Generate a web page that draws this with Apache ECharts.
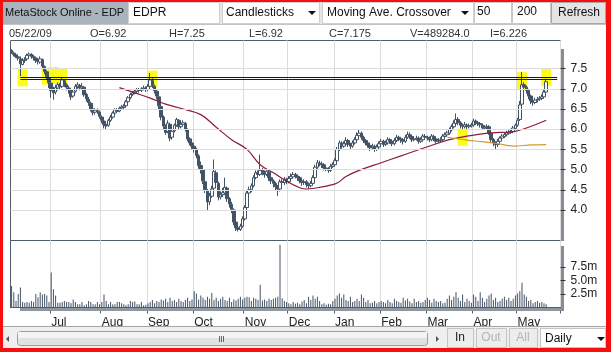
<!DOCTYPE html>
<html>
<head>
<meta charset="utf-8">
<title>MetaStock Online - EDP</title>
<script src="https://cdn.jsdelivr.net/npm/echarts@6/dist/echarts.min.js"></script>
<style>
  html, body { margin: 0; padding: 0; background: #fff; }
  #frame { position: absolute; left: 0; top: 0; width: 611px; height: 352px; box-sizing: border-box;
           border-style: solid; border-color: #f70f0f; border-width: 2px 5px 4px 3px; background: #fff; }
  #chart { position: absolute; left: 0; top: 0; width: 611px; height: 352px; }
</style>
</head>
<body>
<div id="frame"></div>
<div id="chart"></div>
<script>
// trading-day slots on the x axis (last few are empty, right margin of the chart)
const slotCount = 250
const monthStarts = [18, 41, 62, 83, 106, 126, 147, 168, 189, 210, 230]
const monthLabels = ['Jul', 'Aug', 'Sep', 'Oct', 'Nov', 'Dec', 'Jan', 'Feb', 'Mar', 'Apr', 'May']
const priceTicks = [4.0, 4.5, 5.0, 5.5, 6.0, 6.5, 7.0, 7.5]
const volumeTicks = [2.5e6, 5e6, 7.5e6]

// EDPR daily bars
const opens = [
  7.95, 7.88, 7.84, 7.79, 7.74, 7.60, 7.70, 7.74, 7.82, 7.85,
  7.80, 7.76, 7.70, 7.66, 7.72, 7.55, 7.42, 7.28, 7.14, 6.96,
  6.92, 7.02, 7.10, 7.06, 7.20, 7.10, 7.02, 6.96, 6.82, 6.94,
  7.05, 7.08, 7.02, 7.04, 6.86, 6.74, 6.64, 6.50, 6.42, 6.46,
  6.42, 6.30, 6.20, 6.12, 6.10, 6.22, 6.30, 6.40, 6.46, 6.45,
  6.52, 6.54, 6.58, 6.68, 6.78, 6.86, 6.90, 6.94, 6.98, 6.96,
  7.00, 7.02, 6.98, 7.06, 7.20, 7.06, 6.94, 6.80, 6.56, 6.30,
  6.06, 5.94, 6.12, 5.80, 5.96, 6.10, 6.22, 6.06, 6.12, 6.14,
  5.98, 5.76, 5.66, 5.58, 5.50, 5.34, 5.10, 5.00, 4.70, 4.48,
  4.20, 4.34, 4.54, 4.92, 4.66, 4.32, 4.38, 4.42, 4.54, 4.28,
  4.14, 4.00, 3.70, 3.56, 3.52, 3.60, 3.78, 4.06, 4.42, 4.50,
  4.60, 4.80, 4.92, 4.88, 4.98, 4.92, 4.88, 4.94, 4.80, 4.72,
  4.66, 4.58, 4.52, 4.70, 4.68, 4.76, 4.70, 4.78, 4.82, 4.88,
  4.84, 4.80, 4.72, 4.68, 4.70, 4.62, 4.60, 4.66, 4.80, 5.06,
  5.16, 5.14, 5.12, 5.04, 5.02, 4.98, 5.08, 5.12, 5.22, 5.50,
  5.66, 5.58, 5.64, 5.72, 5.62, 5.58, 5.66, 5.74, 5.84, 5.90,
  5.80, 5.72, 5.66, 5.60, 5.54, 5.58, 5.50, 5.56, 5.64, 5.70,
  5.62, 5.66, 5.74, 5.70, 5.64, 5.72, 5.80, 5.76, 5.74, 5.70,
  5.80, 5.86, 5.82, 5.74, 5.76, 5.78, 5.70, 5.74, 5.82, 5.80,
  5.78, 5.74, 5.82, 5.76, 5.70, 5.72, 5.74, 5.82, 5.86, 5.90,
  5.98, 6.06, 6.14, 6.24, 6.16, 6.10, 6.06, 6.10, 6.06, 6.08,
  6.10, 6.20, 6.16, 6.14, 6.10, 6.02, 6.04, 6.06, 5.90, 5.74,
  5.66, 5.62, 5.70, 5.78, 5.82, 5.86, 5.90, 5.92, 5.94, 6.02,
  6.10, 6.24, 6.62, 7.10, 7.04, 6.96, 6.82, 6.70, 6.66, 6.72,
  6.74, 6.76, 6.80, 6.92
]
const highs = [
  7.98, 7.92, 7.87, 7.82, 7.80, 7.76, 7.78, 7.87, 7.90, 7.88,
  7.84, 7.80, 7.74, 7.80, 7.75, 7.58, 7.46, 7.32, 7.18, 7.05,
  7.10, 7.16, 7.14, 7.28, 7.24, 7.14, 7.08, 7.00, 6.98, 7.12,
  7.16, 7.12, 7.14, 7.06, 6.90, 6.80, 6.68, 6.54, 6.52, 6.52,
  6.46, 6.34, 6.24, 6.18, 6.26, 6.35, 6.44, 6.52, 6.52, 6.56,
  6.60, 6.62, 6.72, 6.82, 6.90, 6.95, 6.98, 7.02, 7.02, 7.04,
  7.08, 7.06, 7.12, 7.39, 7.26, 7.10, 6.98, 6.84, 6.60, 6.34,
  6.12, 6.22, 6.14, 6.00, 6.14, 6.28, 6.25, 6.18, 6.22, 6.18,
  6.02, 5.80, 5.70, 5.62, 5.54, 5.38, 5.20, 5.04, 4.78, 4.52,
  4.42, 4.60, 5.25, 4.98, 4.70, 4.46, 4.55, 4.80, 4.58, 4.32,
  4.20, 4.04, 3.74, 3.62, 3.66, 3.84, 4.12, 4.48, 4.58, 4.66,
  4.86, 4.98, 4.98, 5.37, 5.04, 4.98, 5.02, 4.98, 4.84, 4.76,
  4.70, 4.62, 4.76, 4.76, 4.82, 4.80, 4.84, 4.90, 4.94, 4.92,
  4.88, 4.84, 4.76, 4.76, 4.74, 4.68, 4.72, 4.86, 5.12, 5.24,
  5.22, 5.20, 5.16, 5.10, 5.06, 5.14, 5.18, 5.28, 5.56, 5.72,
  5.70, 5.70, 5.80, 5.76, 5.66, 5.72, 5.80, 5.92, 5.98, 5.94,
  5.84, 5.76, 5.70, 5.64, 5.64, 5.62, 5.62, 5.70, 5.76, 5.74,
  5.72, 5.80, 5.78, 5.74, 5.78, 5.86, 5.84, 5.80, 5.78, 5.86,
  5.94, 5.92, 5.86, 5.82, 5.84, 5.82, 5.80, 5.88, 5.88, 5.84,
  5.82, 5.88, 5.86, 5.80, 5.78, 5.80, 5.88, 5.92, 5.96, 6.04,
  6.12, 6.22, 6.39, 6.30, 6.20, 6.14, 6.18, 6.14, 6.14, 6.16,
  6.26, 6.24, 6.20, 6.18, 6.14, 6.10, 6.12, 6.10, 5.94, 5.78,
  5.70, 5.76, 5.82, 5.88, 5.92, 5.96, 5.98, 6.00, 6.08, 6.14,
  6.28, 6.70, 7.42, 7.16, 7.08, 7.00, 6.86, 6.76, 6.78, 6.80,
  6.82, 6.86, 6.98, 7.25
]
const lows = [
  7.86, 7.80, 7.76, 7.70, 7.31, 7.58, 7.64, 7.70, 7.78, 7.74,
  7.70, 7.64, 7.60, 7.62, 7.50, 7.36, 7.22, 7.02, 6.78, 6.73,
  6.86, 6.96, 6.98, 7.02, 7.04, 6.96, 6.88, 6.72, 6.78, 6.90,
  7.00, 6.96, 6.98, 6.80, 6.68, 6.58, 6.44, 6.34, 6.36, 6.38,
  6.26, 6.15, 6.02, 6.00, 6.06, 6.18, 6.26, 6.36, 6.40, 6.42,
  6.48, 6.50, 6.54, 6.64, 6.74, 6.82, 6.86, 6.90, 6.90, 6.92,
  6.96, 6.92, 6.94, 7.02, 7.02, 6.88, 6.74, 6.50, 6.22, 6.00,
  5.86, 5.90, 5.70, 5.74, 5.92, 6.06, 6.00, 6.02, 6.08, 5.94,
  5.70, 5.60, 5.50, 5.42, 5.28, 5.02, 4.90, 4.64, 4.42, 4.00,
  4.12, 4.30, 4.50, 4.60, 4.24, 4.26, 4.32, 4.38, 4.20, 4.06,
  3.92, 3.62, 3.48, 3.47, 3.48, 3.56, 3.74, 4.02, 4.36, 4.44,
  4.56, 4.76, 4.80, 4.84, 4.86, 4.80, 4.84, 4.72, 4.64, 4.56,
  4.48, 4.35, 4.46, 4.60, 4.62, 4.64, 4.66, 4.74, 4.78, 4.78,
  4.72, 4.66, 4.60, 4.62, 4.56, 4.52, 4.56, 4.62, 4.78, 5.02,
  5.08, 5.04, 4.98, 4.96, 4.92, 4.94, 5.04, 5.08, 5.20, 5.46,
  5.52, 5.54, 5.60, 5.56, 5.50, 5.54, 5.62, 5.70, 5.80, 5.74,
  5.66, 5.60, 5.54, 5.46, 5.50, 5.44, 5.46, 5.52, 5.60, 5.56,
  5.58, 5.62, 5.64, 5.58, 5.60, 5.68, 5.70, 5.66, 5.62, 5.66,
  5.76, 5.76, 5.68, 5.70, 5.72, 5.64, 5.66, 5.70, 5.74, 5.72,
  5.68, 5.70, 5.70, 5.64, 5.66, 5.68, 5.70, 5.78, 5.82, 5.86,
  5.94, 6.02, 6.10, 6.10, 6.02, 6.00, 6.02, 6.00, 6.02, 6.04,
  6.06, 6.10, 6.08, 6.04, 5.98, 5.98, 6.00, 5.86, 5.68, 5.58,
  5.51, 5.56, 5.66, 5.74, 5.78, 5.82, 5.86, 5.88, 5.90, 5.98,
  6.06, 6.20, 6.58, 6.96, 6.88, 6.74, 6.62, 6.58, 6.62, 6.66,
  6.70, 6.72, 6.76, 6.92
]
const closes = [
  7.90, 7.85, 7.80, 7.76, 7.62, 7.70, 7.72, 7.83, 7.86, 7.80,
  7.77, 7.70, 7.68, 7.74, 7.56, 7.43, 7.30, 7.15, 6.95, 6.90,
  7.03, 7.10, 7.05, 7.22, 7.10, 7.04, 6.98, 6.80, 6.92, 7.06,
  7.10, 7.02, 7.06, 6.85, 6.75, 6.66, 6.50, 6.41, 6.47, 6.44,
  6.32, 6.22, 6.11, 6.08, 6.22, 6.30, 6.40, 6.48, 6.44, 6.52,
  6.55, 6.57, 6.68, 6.78, 6.86, 6.90, 6.94, 6.98, 6.96, 7.00,
  7.02, 6.98, 7.06, 7.22, 7.08, 6.95, 6.82, 6.58, 6.30, 6.08,
  5.92, 6.15, 5.78, 5.95, 6.10, 6.24, 6.06, 6.12, 6.16, 6.00,
  5.76, 5.66, 5.58, 5.50, 5.35, 5.10, 5.00, 4.72, 4.50, 4.20,
  4.35, 4.52, 4.95, 4.68, 4.32, 4.38, 4.43, 4.56, 4.28, 4.15,
  4.02, 3.70, 3.56, 3.52, 3.60, 3.78, 4.06, 4.42, 4.50, 4.60,
  4.80, 4.92, 4.88, 4.98, 4.93, 4.88, 4.96, 4.80, 4.72, 4.66,
  4.58, 4.52, 4.70, 4.68, 4.76, 4.71, 4.78, 4.83, 4.88, 4.84,
  4.80, 4.72, 4.68, 4.70, 4.63, 4.60, 4.66, 4.80, 5.06, 5.17,
  5.14, 5.12, 5.04, 5.02, 4.98, 5.08, 5.12, 5.22, 5.50, 5.66,
  5.58, 5.64, 5.72, 5.62, 5.58, 5.66, 5.74, 5.85, 5.90, 5.80,
  5.72, 5.66, 5.60, 5.54, 5.58, 5.50, 5.56, 5.64, 5.70, 5.62,
  5.66, 5.74, 5.70, 5.64, 5.72, 5.80, 5.76, 5.74, 5.70, 5.80,
  5.87, 5.83, 5.74, 5.76, 5.78, 5.70, 5.74, 5.83, 5.80, 5.78,
  5.74, 5.83, 5.76, 5.70, 5.72, 5.74, 5.83, 5.86, 5.91, 5.99,
  6.07, 6.15, 6.24, 6.16, 6.10, 6.07, 6.11, 6.07, 6.09, 6.11,
  6.20, 6.16, 6.14, 6.11, 6.03, 6.05, 6.07, 5.91, 5.74, 5.66,
  5.62, 5.70, 5.78, 5.83, 5.87, 5.91, 5.93, 5.95, 6.03, 6.10,
  6.22, 6.60, 7.10, 7.04, 6.96, 6.82, 6.70, 6.66, 6.72, 6.74,
  6.77, 6.80, 6.92, 7.175
]
// volume, millions of shares
const volumes = [
  4.0, 2.8, 1.2, 2.5, 3.7, 1.0, 0.9, 1.0, 0.9, 1.2, 1.0, 2.5, 1.9, 2.8, 2.4, 2.5, 2.2, 1.0,
  6.5, 3.4, 2.2, 0.9, 0.9, 1.0, 1.2, 1.0, 1.0, 0.8, 1.5, 1.0, 0.6, 0.6, 1.0, 0.4, 0.6, 1.2, 1.0, 0.6, 0.6, 1.0, 0.6,
  1.0, 2.4, 1.2, 0.6, 1.0, 0.6, 0.6, 1.0, 1.0, 0.8, 0.6, 0.4, 0.6, 1.2, 1.0, 1.1, 0.6, 0.6, 1.0, 0.4, 0.5,
  0.8, 1.0, 1.4, 0.8, 1.2, 1.0, 1.5, 1.3, 1.6, 1.0, 1.8, 1.2, 1.4, 1.0, 1.6, 1.2, 1.0, 1.4, 1.8, 1.2, 1.5,
  3.0, 2.6, 1.5, 2.2, 1.8, 1.4, 2.0, 1.6, 2.7, 1.4, 1.8, 1.2, 1.6, 2.0, 1.4, 1.2, 1.8, 1.0, 1.5, 1.3, 1.6, 2.0, 1.5,
  1.8, 2.0, 1.9, 1.2, 1.8, 1.6, 1.4, 4.2, 1.3, 1.5, 1.2, 1.6, 1.4, 1.6, 1.8, 2.0, 11.6, 1.7, 1.2, 1.0,
  0.8, 0.6, 1.0, 0.7, 0.9, 0.6, 1.1, 1.4, 0.8, 2.0, 1.4, 2.2, 1.6, 2.0, 1.2, 0.6, 0.8, 0.5, 0.7, 0.6, 1.2,
  1.6, 2.2, 2.6, 1.8, 2.4, 1.4, 1.2, 2.0, 1.0, 1.2, 1.6, 1.2, 2.4, 1.8, 1.0, 1.4, 0.8, 0.9, 1.2, 0.8, 1.0,
  1.2, 1.0, 0.8, 1.4, 1.0, 0.8, 1.6, 1.2, 1.0, 0.9, 1.8, 1.3, 1.6, 1.1, 0.8, 1.6, 1.0, 1.2, 0.9, 1.0, 1.4,
  1.8, 1.4, 0.9, 1.6, 1.2, 1.0, 1.2, 0.8, 0.9, 1.6, 2.2, 1.4, 2.0, 2.8, 1.8, 1.2, 2.4, 1.0, 1.6, 1.2, 0.9,
  2.4, 2.0, 1.2, 2.8, 1.8, 1.0, 1.6, 2.2, 2.6, 1.4, 1.8, 1.0, 1.2, 1.6, 2.0, 1.4, 1.8, 1.2, 1.6, 2.2,
  2.6, 3.0, 4.6, 2.4, 2.0, 1.2, 1.4, 0.8, 1.0, 1.2, 0.9, 1.0, 0.8, 0.6
]
// moving averages: [bar index, value]
const ma50 = [
  [49, 7.03], [56, 6.90], [63, 6.77], [70, 6.62], [78, 6.50], [86, 6.36], [93, 6.05],
  [100, 5.74], [107, 5.50], [113, 5.12], [119, 4.92], [125, 4.71], [131, 4.55], [134, 4.52],
  [139, 4.55], [143, 4.59], [148, 4.67], [152, 4.83], [158, 4.98], [168, 5.17], [177, 5.34],
  [192, 5.62], [199, 5.74], [207, 5.83], [218, 5.91], [227, 5.93], [234, 6.03], [243, 6.22]
]
const ma200 = [[198, 5.80], [207, 5.73], [214, 5.69], [221, 5.64], [228, 5.58], [236, 5.61], [243, 5.62]]
// horizontal level lines: start bar, end bar, price
const levelStart = [4, 4, 170]
const levelEnd = [248, 248, 248]
const levelPrice = [7.279, 7.230, 5.497]
// crossover signal boxes: [bar index, price]
const signals = [[5, 7.27], [16, 7.31], [19, 7.33], [23, 7.30], [64, 7.24], [205, 5.80], [232, 7.20], [243, 7.28]]

// header texts
const infoTexts = ['05/22/09', 'O=6.92', 'H=7.25', 'L=6.92', 'C=7.175', 'V=489284.0', 'I=6.226']

if (closes.length !== 244 || opens.length !== 244 || highs.length !== 244 || lows.length !== 244 || volumes.length !== 244) {
  throw new Error('lengths ' + [opens.length, highs.length, lows.length, closes.length, volumes.length].join(','))
}

const FONT = '"Liberation Sans", Arial, sans-serif'
const barColor = '#435366'
const frameColor = '#4f5e6c'
const gridColor = '#dcdcdc'

const categories = []
for (let i = 0; i < slotCount; i++) categories.push('d' + i)
const isMonthStart = (i) => monthStarts.indexOf(i) >= 0

const candles = closes.map((c, i) => [opens[i], c, lows[i], highs[i]])
const vols = volumes.map(v => v * 1e6)

// --- page chrome (toolbar, info row, scroller) ---
const g = []
function rect(x, y, w, h, fill, stroke, r) {
  g.push({ type: 'rect', silent: true, z: 1, shape: { x: x, y: y, width: w, height: h, r: r || 0 },
    style: { fill: fill, stroke: stroke || null, lineWidth: 1 } })
}
function text(str, x, y, size, color, align) {
  g.push({ type: 'text', silent: true, z: 2, x: x, y: y,
    style: { text: str, fill: color, font: size + 'px ' + FONT,
      align: align || 'left', verticalAlign: 'middle', textAlign: align || 'left', textVerticalAlign: 'middle' } })
}
function tri(points, color) {
  g.push({ type: 'polygon', silent: true, z: 2, shape: { points: points }, style: { fill: color } })
}
// toolbar
rect(3, 2, 603, 22, '#e6e6e6')
rect(3, 2, 125, 22, '#a9b3bd')
text('MetaStock Online - EDP', 5, 13, 11, '#111')
rect(128.5, 2.5, 91, 21, '#ffffff', '#d0d0d0')
text('EDPR', 133, 13, 12, '#111')
rect(222.5, 2.5, 97, 21, '#ffffff', '#d0d0d0')
text('Candlesticks', 226, 13, 12, '#111')
tri([[308, 11], [316, 11], [312, 15]], '#111')
rect(322.5, 2.5, 151, 21, '#ffffff', '#d0d0d0')
text('Moving Ave. Crossover', 327, 13, 12, '#111')
tri([[461, 11], [469, 11], [465, 15]], '#111')
rect(474.5, 2.5, 37, 21, '#ffffff', '#c8c8c8')
text('50', 477, 12, 12, '#111')
rect(512.5, 2.5, 38, 21, '#ffffff', '#c8c8c8')
text('200', 517, 12, 12, '#111')
rect(551.5, 2.5, 54, 21, '#e4e4e4', '#a8a8a8')
text('Refresh', 579, 13, 12, '#111', 'center')
rect(3, 24, 603, 1, '#c4c4c4')
// info row
const infoX = [9, 90, 169, 249, 329, 410, 490]
infoTexts.forEach((t, i) => text(t, infoX[i], 34, 11, '#333'))
// right axis bars and shadow under the volume baseline
rect(561, 49, 3, 192, '#858e97')
rect(561, 246, 3, 65, '#858e97')
rect(20, 308, 541, 3, '#8f979f')
// scroller row
rect(3, 326, 603, 22, '#efefef')
rect(3, 326, 603, 1, '#a4a4a4')
tri([[6, 339], [9, 336], [9, 342]], '#555')
rect(17.5, 331.5, 410, 14, '#e2e2e2', '#9c9c9c', 3)
rect(18, 332, 409, 6, '#f4f4f4')
rect(219, 336, 1, 6, '#666')
rect(221, 336, 1, 6, '#666')
rect(223, 336, 1, 6, '#666')
tri([[436, 336], [439, 339], [436, 342]], '#555')
rect(447.5, 328.5, 26, 19, '#ededed', '#c4c4c4')
text('In', 460, 338, 12, '#222', 'center')
rect(476.5, 328.5, 30, 19, '#ededed', '#c4c4c4')
text('Out', 491, 338, 12, '#b4b4b4', 'center')
rect(509.5, 328.5, 28, 19, '#ededed', '#c4c4c4')
text('All', 523, 338, 12, '#b4b4b4', 'center')
rect(540.5, 328.5, 65, 19, '#ffffff', '#c4c4c4')
text('Daily', 545, 339, 12, '#111')
tri([[597, 337], [605, 337], [601, 341]], '#111')

const levelSeries = levelPrice.map((p, k) => ({
  type: 'line', xAxisIndex: 0, yAxisIndex: 0, z: 4, silent: true, showSymbol: false,
  data: [[levelStart[k], p], [levelEnd[k], p]],
  lineStyle: { color: '#0f1c1e', width: 1 }
}))

const chart = echarts.init(document.getElementById('chart'))
chart.setOption({
  animation: false,
  backgroundColor: 'transparent',
  graphic: g,
  grid: [
    { left: 10.5, right: 50.5, top: 40.5, height: 200, show: true, borderColor: frameColor, borderWidth: 1 },
    { left: 10.5, right: 50.5, top: 240.5, height: 67, show: true, borderColor: frameColor, borderWidth: 1 }
  ],
  xAxis: [
    {
      gridIndex: 0, type: 'category', data: categories, boundaryGap: true,
      axisLine: { show: false }, axisTick: { show: false }, axisLabel: { show: false },
      splitLine: { show: true, interval: isMonthStart, lineStyle: { color: gridColor } }
    },
    {
      gridIndex: 1, type: 'category', data: categories, boundaryGap: true,
      axisLine: { show: true, lineStyle: { color: frameColor } },
      axisTick: { show: true, interval: isMonthStart, length: 6, lineStyle: { color: frameColor } },
      axisLabel: {
        show: true, interval: isMonthStart, align: 'left', margin: 9,
        fontSize: 12, fontFamily: FONT, color: '#222',
        formatter: (v, i) => monthLabels[monthStarts.indexOf(i)] || ''
      },
      splitLine: { show: true, interval: isMonthStart, lineStyle: { color: gridColor } }
    }
  ],
  yAxis: [
    {
      gridIndex: 0, type: 'value', position: 'right', min: 3.245, max: 8.195, z: 5,
      axisLine: { show: false },
      axisTick: { show: true, customValues: priceTicks, length: 5, lineStyle: { color: '#333' } },
      axisLabel: { customValues: priceTicks, formatter: v => v.toFixed(1), margin: 10,
        fontSize: 12, fontFamily: FONT, color: '#222' },
      splitLine: { show: true, lineStyle: { color: gridColor } }
    },
    {
      gridIndex: 1, type: 'value', position: 'right', min: 0, max: 12.4e6, z: 5,
      axisLine: { show: false },
      axisTick: { show: true, customValues: volumeTicks, length: 5, lineStyle: { color: '#333' } },
      axisLabel: { customValues: volumeTicks, formatter: v => (v / 1e6).toFixed(1) + 'm', margin: 10,
        fontSize: 12, fontFamily: FONT, color: '#222' },
      splitLine: { show: false }
    }
  ],
  series: [
    {
      type: 'scatter', xAxisIndex: 0, yAxisIndex: 0, z: 1, silent: true,
      symbol: 'rect', symbolSize: [10, 17], data: signals,
      itemStyle: { color: '#fbfb1e', opacity: 1 }
    },
    {
      type: 'candlestick', xAxisIndex: 0, yAxisIndex: 0, z: 3, barWidth: 3,
      data: candles,
      itemStyle: { color: '#ffffff', color0: barColor, borderColor: barColor, borderColor0: barColor, borderWidth: 1 }
    },
    {
      type: 'line', xAxisIndex: 0, yAxisIndex: 0, z: 4, silent: true, showSymbol: false, smooth: 0.4,
      data: ma50, lineStyle: { color: '#8c1a3d', width: 1.2 }
    },
    {
      type: 'line', xAxisIndex: 0, yAxisIndex: 0, z: 4, silent: true, showSymbol: false, smooth: 0.3,
      data: ma200, lineStyle: { color: '#d49a32', width: 1.2 }
    },
    ...levelSeries,
    {
      type: 'bar', xAxisIndex: 1, yAxisIndex: 1, barWidth: 1, silent: true,
      data: vols, itemStyle: { color: barColor }
    }
  ]
})
</script>
</body>
</html>
